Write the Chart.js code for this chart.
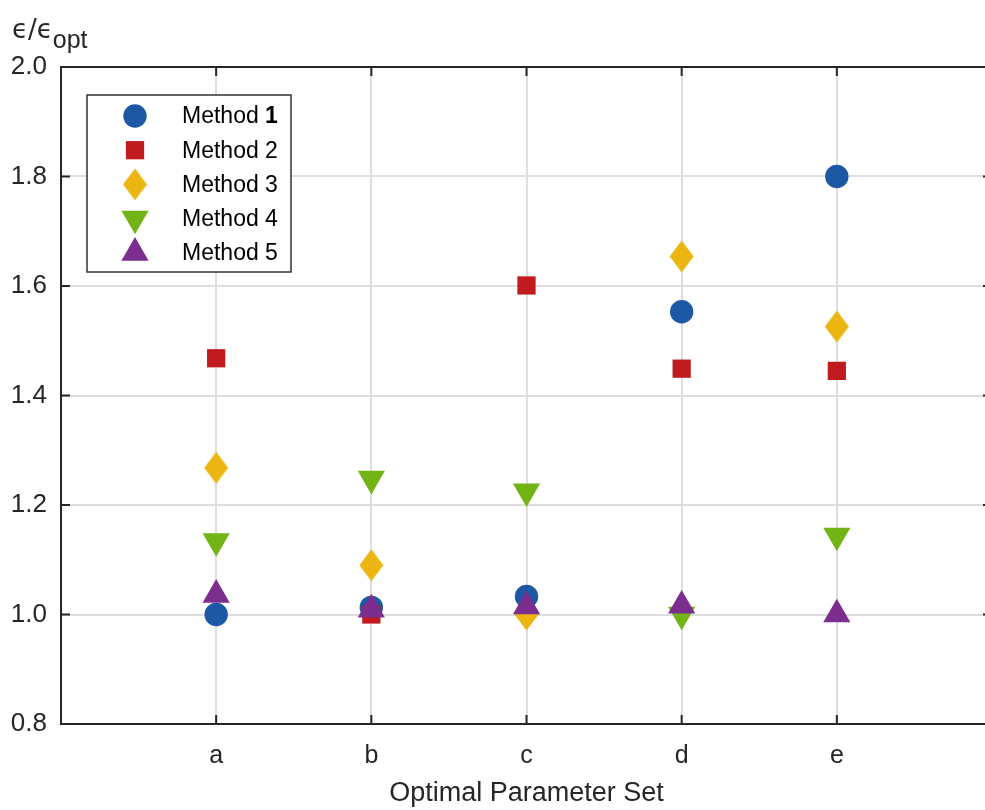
<!DOCTYPE html>
<html>
<head>
<meta charset="utf-8">
<script src="https://cdn.jsdelivr.net/npm/chart.js@4"></script>
<style>
    html, body { margin: 0; padding: 0; overflow: hidden; background: #fff; }
    #wrap { width: 1008px; height: 810px; }
    #err\.chart { display: block; width: 1008px; height: 810px; }
</style>
</head>
<body>
<div id="wrap"><canvas id="err.chart" width="1008" height="810"></canvas></div>
<script>
// parameter sets along x
const sets = ['a', 'b', 'c', 'd', 'e'];
const yTicks = [0.8, 1.0, 1.2, 1.4, 1.6, 1.8, 2.0];

// error ratio for each method
const method1 = [1.00, 1.013, 1.033, 1.553, 1.80];
const method2 = [1.468, 1.00, 1.601, 1.449, 1.445];
const method3 = [1.268, 1.09, 1.00, 1.654, 1.526];
const method4 = [1.134, 1.248, 1.225, 1.00, 1.144];
const method5 = [1.036, 1.009, 1.015, 1.016, 1.00];

const FONT = "'Liberation Sans', Arial, Helvetica, sans-serif";
const INK = '#262626';

// tall diamond, chart.js rectRot is square so build one
function makeDiamond(color) {
    const c = document.createElement('canvas');
    c.width = 25; c.height = 33;
    const g = c.getContext('2d');
    g.fillStyle = color;
    g.beginPath();
    g.moveTo(12.5, 0.5);
    g.lineTo(24.5, 16.5);
    g.lineTo(12.5, 32.5);
    g.lineTo(0.5, 16.5);
    g.closePath();
    g.fill();
    return c;
}

const styles = [
    { label: 'Method 1', data: method1, color: '#1c58a4', pointStyle: 'circle', radius: 11.7, rotation: 0 },
    { label: 'Method 2', data: method2, color: '#c01b1e', pointStyle: 'rect', radius: 12.9, rotation: 0 },
    { label: 'Method 3', data: method3, color: '#ebb512', pointStyle: null, radius: 16, rotation: 0 },
    { label: 'Method 4', data: method4, color: '#72b315', pointStyle: 'triangle', radius: 15.7, rotation: 180 },
    { label: 'Method 5', data: method5, color: '#7c2e8e', pointStyle: 'triangle', radius: 15.7, rotation: 0 },
];
styles[2].pointStyle = makeDiamond(styles[2].color);

const datasets = styles.map((s, i) => ({
    label: s.label,
    data: s.data.map((v, k) => ({ x: k + 1, y: v })),
    showLine: false,
    pointStyle: s.pointStyle,
    pointRadius: s.radius,
    pointHoverRadius: s.radius,
    pointRotation: s.rotation,
    pointBackgroundColor: s.color,
    pointBorderColor: s.color,
    pointBorderWidth: 0,
    order: styles.length - i
}));

// box around the plot with inward ticks
const frame = {
    id: 'frame',
    beforeDatasetsDraw(chart) {
        const { ctx, chartArea: a, scales: { x, y } } = chart;
        const t = 9;
        ctx.save();
        ctx.strokeStyle = INK;
        ctx.lineWidth = 2;
        ctx.beginPath();
        sets.forEach((_, k) => {
            const px = x.getPixelForValue(k + 1);
            ctx.moveTo(px, a.bottom); ctx.lineTo(px, a.bottom - t);
            ctx.moveTo(px, a.top); ctx.lineTo(px, a.top + t);
        });
        yTicks.forEach(v => {
            const py = y.getPixelForValue(v);
            ctx.moveTo(a.left, py); ctx.lineTo(a.left + t, py);
            ctx.moveTo(a.right, py); ctx.lineTo(a.right - t, py);
        });
        ctx.stroke();
        ctx.strokeRect(a.left, a.top, a.right - a.left, a.bottom - a.top);
        ctx.restore();
    },
    afterDraw(chart) {
        const ctx = chart.ctx;
        ctx.save();
        ctx.fillStyle = INK;
        ctx.textBaseline = 'alphabetic';
        ctx.font = "26px 'DejaVu Sans'";
        ctx.fillText('\u03F5/\u03F5', 12, 38);
        const w = ctx.measureText('\u03F5/\u03F5').width;
        ctx.font = '25px ' + FONT;
        ctx.fillText('opt', 12 + w, 48);
        ctx.restore();
    }
};

// legend box in the upper left of the plot
const boxLegend = {
    id: 'boxLegend',
    afterDraw(chart) {
        const ctx = chart.ctx;
        const L = 87, T = 95, R = 291, B = 272;
        ctx.save();
        ctx.fillStyle = '#fff';
        ctx.fillRect(L, T, R - L, B - T);
        ctx.strokeStyle = '#333';
        ctx.lineWidth = 1.5;
        ctx.strokeRect(L, T, R - L, B - T);
        styles.forEach((s, i) => {
            const cy = 116 + i * 34.2;
            ctx.fillStyle = s.color;
            ctx.strokeStyle = s.color;
            Chart.helpers.drawPoint(ctx, {
                pointStyle: s.pointStyle, radius: s.radius, rotation: s.rotation, borderWidth: 0
            }, 135, cy);
            ctx.fillStyle = '#000';
            ctx.textBaseline = 'middle';
            ctx.font = '23px ' + FONT;
            const head = 'Method ';
            ctx.fillText(head, 182, cy + 1);
            const hw = ctx.measureText(head).width;
            if (i === 0) ctx.font = 'bold 23px ' + FONT;
            ctx.fillText(String(i + 1), 182 + hw, cy + 1);
        });
        ctx.restore();
    }
};

const chart = new Chart(document.getElementById('err.chart'), {
    type: 'scatter',
    data: { datasets },
    options: {
        responsive: false,
        animation: false,
        events: [],
        layout: { padding: { top: 67, right: 0, left: 0, bottom: 0 } },
        plugins: {
            legend: { display: false },
            tooltip: { enabled: false }
        },
        scales: {
            x: {
                type: 'linear',
                min: 0,
                max: 6,
                afterBuildTicks: (s) => { s.ticks = sets.map((_, k) => ({ value: k + 1 })); },
                afterFit: (s) => { s.height = 86; s.paddingLeft = 0; s.paddingRight = 0; },
                grid: { color: '#dedede', lineWidth: 2, drawTicks: false },
                border: { display: false },
                ticks: {
                    padding: 17,
                    color: INK,
                    font: { family: FONT, size: 25 },
                    callback: (v) => sets[v - 1] || ''
                },
                title: {
                    display: true,
                    text: 'Optimal Parameter Set',
                    color: INK,
                    font: { family: FONT, size: 27 },
                    padding: { top: 0, bottom: 0 }
                }
            },
            y: {
                min: 0.8,
                max: 2.0,
                afterBuildTicks: (s) => { s.ticks = yTicks.map(v => ({ value: v })); },
                afterFit: (s) => { s.width = 61; },
                grid: { color: '#dedede', lineWidth: 2, drawTicks: false },
                border: { display: false },
                ticks: {
                    padding: 14,
                    color: INK,
                    font: { family: FONT, size: 26 },
                    callback: (v) => v.toFixed(1)
                }
            }
        }
    },
    plugins: [frame, boxLegend]
});
</script>
</body>
</html>
